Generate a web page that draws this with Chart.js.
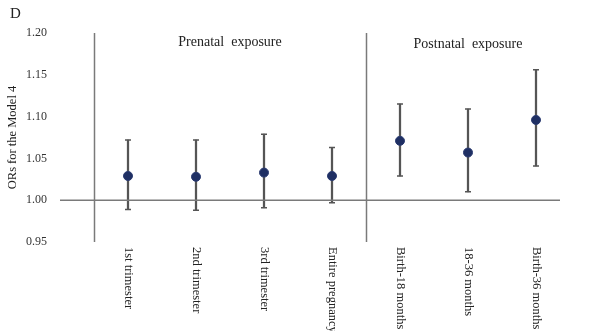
<!DOCTYPE html>
<html>
<head>
<meta charset="utf-8">
<script src="https://cdn.jsdelivr.net/npm/chart.js@4/dist/chart.umd.min.js"></script>
<style>
  html, body { margin: 0; padding: 0; background: #fff; }
  #wrap { width: 598px; height: 331px; position: relative; }
</style>
</head>
<body>
<div id="wrap"><canvas id="chart" width="598" height="331"></canvas></div>
<script>
// DATA
const categories = ["1st trimester", "2nd trimester", "3rd trimester", "Entire pregnancy",
  "Birth-18 months", "18-36 months", "Birth-36 months"];
const orValues = [1.029, 1.028, 1.033, 1.029, 1.071, 1.057, 1.096];
const lowerCI = [0.989, 0.988, 0.991, 0.997, 1.029, 1.010, 1.041];
const upperCI = [1.072, 1.072, 1.079, 1.063, 1.115, 1.109, 1.156];
const yTicks = [0.95, 1.00, 1.05, 1.10, 1.15, 1.20];
const groups = [
  { label: "Prenatal  exposure", from: 0, to: 3 },
  { label: "Postnatal  exposure", from: 4, to: 6 }
];

const serif = "'Liberation Serif', 'DejaVu Serif', serif";

// custom drawing: reference line, separators, group titles, rotated labels
const decor = {
  id: "decor",
  afterDatasetsDraw(chart) {
    const ctx = chart.ctx;
    const x = chart.scales.x;
    const y = chart.scales.y;
    const top = y.getPixelForValue(1.20);
    const bottom = y.getPixelForValue(0.95);

    ctx.save();
    ctx.strokeStyle = "#7a7a7a";
    ctx.lineWidth = 1.5;

    // line at OR = 1
    const y1 = y.getPixelForValue(1.0);
    ctx.beginPath();
    ctx.moveTo(60, y1);
    ctx.lineTo(560, y1);
    ctx.stroke();

    // group separators
    [-0.5, 3.5].forEach((v) => {
      const px = Math.round(x.getPixelForValue(v)) + 0.5;
      ctx.beginPath();
      ctx.moveTo(px, top);
      ctx.lineTo(px, bottom);
      ctx.stroke();
    });

    // group titles
    ctx.fillStyle = "#222";
    ctx.font = "14px " + serif;
    ctx.textAlign = "center";
    ctx.textBaseline = "middle";
    groups.forEach((g, i) => {
      const cx = (x.getPixelForValue(g.from - 0.5) + x.getPixelForValue(g.to + 0.5)) / 2;
      ctx.fillText(g.label, cx, y.getPixelForValue(i === 0 ? 1.189 : 1.186));
    });

    // category labels, read top to bottom
    ctx.font = "12.5px " + serif;
    ctx.fillStyle = "#222";
    ctx.textAlign = "left";
    ctx.textBaseline = "middle";
    categories.forEach((c, i) => {
      ctx.save();
      ctx.translate(x.getPixelForValue(i) + 0.5, 247);
      ctx.rotate(Math.PI / 2);
      ctx.fillText(c, 0, 0);
      ctx.restore();
    });

    // panel letter
    ctx.font = "15px " + serif;
    ctx.textAlign = "left";
    ctx.fillText("D", 10, 14);
    ctx.restore();
  }
};

const ctx = document.getElementById("chart").getContext("2d");

const chart = new Chart(ctx, {
  type: "bar",
  data: {
    labels: categories,
    datasets: [
      {
        type: "line",
        data: orValues,
        showLine: false,
        pointRadius: 4.5,
        pointBackgroundColor: "#1f2f63",
        pointBorderColor: "#2a3a70",
        pointBorderWidth: 1,
        order: 0
      },
      {
        type: "line",
        data: upperCI,
        showLine: false,
        pointStyle: "line",
        pointRadius: 3,
        pointBorderWidth: 1.5,
        pointBorderColor: "#555",
        order: 1
      },
      {
        type: "line",
        data: lowerCI,
        showLine: false,
        pointStyle: "line",
        pointRadius: 3,
        pointBorderWidth: 1.5,
        pointBorderColor: "#555",
        order: 1
      },
      {
        type: "bar",
        data: categories.map((c, i) => [lowerCI[i], upperCI[i]]),
        backgroundColor: "#555",
        barThickness: 1.6,
        order: 2
      }
    ]
  },
  options: {
    responsive: false,
    animation: false,
    layout: { padding: { left: 0, top: 33, right: 28, bottom: 89 } },
    plugins: {
      legend: { display: false },
      tooltip: { enabled: false }
    },
    scales: {
      x: {
        display: false
      },
      y: {
        min: 0.95,
        max: 1.20,
        afterBuildTicks(scale) {
          scale.ticks = yTicks.map((v) => ({ value: v }));
        },
        afterFit(scale) {
          scale.width = 94;
        },
        // ticks hidden, tickLength only pushes the labels left
        grid: { display: false, drawTicks: true, tickLength: 44 },
        border: { display: false },
        ticks: {
          padding: 3,
          color: "#333",
          font: { family: serif, size: 12 },
          callback: (v) => Number(v).toFixed(2)
        },
        title: {
          display: true,
          text: "ORs for the Model 4",
          color: "#222",
          font: { family: serif, size: 12.5 },
          padding: { top: 5, bottom: 0 }
        }
      }
    }
  },
  plugins: [decor]
});
</script>
</body>
</html>
